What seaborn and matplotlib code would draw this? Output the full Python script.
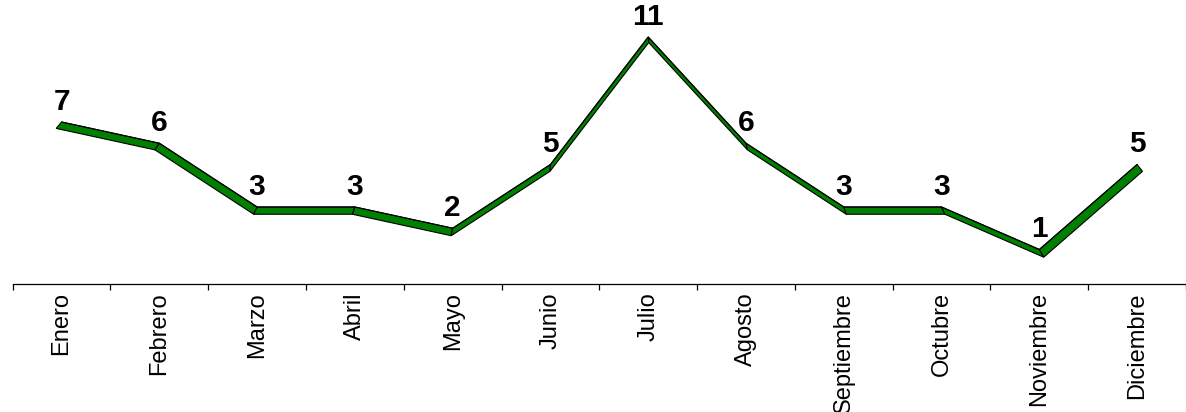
import numpy as np
import pandas as pd
import matplotlib
matplotlib.use("Agg")
import matplotlib.pyplot as plt
import seaborn as sns

# ---- data ----
meses = ["Enero", "Febrero", "Marzo", "Abril", "Mayo", "Junio", "Julio",
         "Agosto", "Septiembre", "Octubre", "Noviembre", "Diciembre"]
valores = [7, 6, 3, 3, 2, 5, 11, 6, 3, 3, 1, 5]

sns.set_theme(style="white")
plt.rcParams['font.family'] = ['Liberation Sans', 'DejaVu Sans']
plt.rcParams['text.color'] = 'black'
plt.rcParams['xtick.color'] = 'black'

fig = plt.figure(figsize=(11.86, 4.12), dpi=100)
ax = fig.add_axes([0.0107, 0.3107, 0.9893, 0.6893])

df = pd.DataFrame({"mes": meses, "valor": valores})
xs = np.arange(len(meses), dtype=float)
ys = np.array(valores, dtype=float)

# 3D ribbon (perspective depth offset, like Excel 3-D line)
s = 0.010
dvx = s * (xs - 5.5)
dvy = s * (37.2 - ys)
green = "#008000"
for i in range(len(xs) - 1):
    poly = [(xs[i], ys[i]), (xs[i + 1], ys[i + 1]),
            (xs[i + 1] + dvx[i + 1], ys[i + 1] - dvy[i + 1]),
            (xs[i] + dvx[i], ys[i] - dvy[i])]
    ax.fill([p[0] for p in poly], [p[1] for p in poly], facecolor=green,
            edgecolor="black", linewidth=0.8, zorder=3, joinstyle="miter")

sns.lineplot(data=df, x="mes", y="valor", color="black", linewidth=0.8,
             sort=False, ax=ax, zorder=4)

for i, v in enumerate(valores):
    ax.annotate(str(v), (i, v), xytext=(0, 4.5), textcoords="offset points",
                ha="center", va="bottom", fontsize=21.5, fontweight="bold",
                color="black", zorder=5)

ax.set_xlim(-0.5, 11.5)
ax.set_ylim(-0.624, 12.741)
ax.set_yticks([])
ax.set_xlabel("")
ax.set_ylabel("")
for sp in ["left", "top", "right"]:
    ax.spines[sp].set_visible(False)
ax.spines["bottom"].set_color("black")
ax.spines["bottom"].set_linewidth(0.9)

ax.set_xticks(xs)
ax.set_xticklabels(meses, rotation=90, fontsize=17, color="black")
ax.set_xticks(np.arange(-0.5, 12.0, 1.0), minor=True)
ax.tick_params(axis="x", which="major", bottom=True, length=0, pad=6)
ax.tick_params(axis="x", which="minor", bottom=True, length=4, width=0.9,
               color="black", direction="out")
ax.patch.set_alpha(0)

fig.savefig("out.png", dpi=100, facecolor="white")
